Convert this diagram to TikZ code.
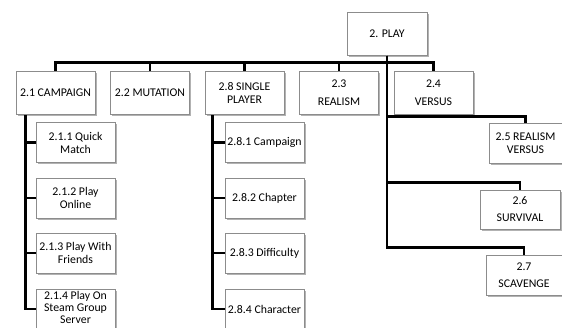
\documentclass[tikz,border=0pt]{standalone}
\usepackage{fontspec}
\setmainfont{Carlito}
\usetikzlibrary{shadows}

\begin{document}
\begin{tikzpicture}[x=1pt,y=-1pt,
    box/.style={draw=black!45, line width=0.6pt, fill=white,
      minimum width=79pt, minimum height=40pt, inner sep=1pt,
      align=center, font=\fontsize{11.8}{13}\selectfont,
      drop shadow={shadow xshift=1.6pt, shadow yshift=-1.6pt,
        fill=black!30, opacity=1}},
    topbox/.style={box, minimum height=43pt},
    conn/.style={line width=2.6pt}]
      \fill[white] (0,0) rectangle (562,327);
      \useasboundingbox (0,0) rectangle (562,327);

      % Root
      \node[topbox, minimum width=80pt] (play) at (387,34) {2. PLAY};

      % First level
      \node[topbox] (camp)   at (55.5,93.2)  {2.1 CAMPAIGN};
      \node[topbox] (mut)    at (150,93.2)   {2.2 MUTATION};
      \node[topbox] (single) at (244.5,93.2) {2.8 SINGLE\\PLAYER};
      \node[topbox] (real)   at (339,93.2)   {2.3\\[5pt]REALISM};
      \node[topbox] (vers)   at (433.5,93.2) {2.4\\[5pt]VERSUS};

      % Campaign modes
      \node[box] (c1) at (75.5,142.5) {2.1.1 Quick\\Match};
      \node[box] (c2) at (75.5,198)   {2.1.2 Play\\Online};
      \node[box] (c3) at (75.5,253)   {2.1.3 Play With\\Friends};
      \node[box] (c4) at (75.5,309)   {\raisebox{2pt}{\begin{tabular}{@{}c@{}}2.1.4 Play On\\[-1.2pt]Steam Group\\[-1.2pt]Server\end{tabular}}};

      % Single player options
      \node[box] (s1) at (264.5,142.5) {2.8.1 Campaign};
      \node[box] (s2) at (264.5,198)   {2.8.2 Chapter};
      \node[box] (s3) at (264.5,253)   {2.8.3 Difficulty};
      \node[box] (s4) at (264.5,309)   {2.8.4 Character};

      % Right hand modes
      \node[box, minimum width=73pt] (r5) at (525.5,143) {2.5 REALISM\\VERSUS};
      \node[box, minimum width=80pt, minimum height=39pt] (r6) at (520,209.5) {2.6\\[4pt]SURVIVAL};
      \node[box, minimum width=76pt] (r7) at (524,275) {2.7\\[4pt]SCAVENGE};

      % Connectors
      \foreach \n in {camp,mut,single,real,vers}
        \draw[conn] (play.south) |- ([yshift=9pt]\n.north) -- (\n.north);
      \foreach \n in {c1,c2,c3,c4}
        \draw[conn] ([xshift=9.5pt]camp.south west) |- (\n.west);
      \foreach \n in {s1,s2,s3,s4}
        \draw[conn] ([xshift=8pt]single.south west) |- (\n.west);
      \draw[conn] (play.south) |- ([yshift=6pt]r5.north) -- (r5.north);
      \draw[conn] (play.south) |- ([yshift=7pt]r6.north) -- (r6.north);
      \draw[conn] (play.south) |- ([yshift=7pt]r7.north) -- (r7.north);

\end{tikzpicture}
\end{document}
